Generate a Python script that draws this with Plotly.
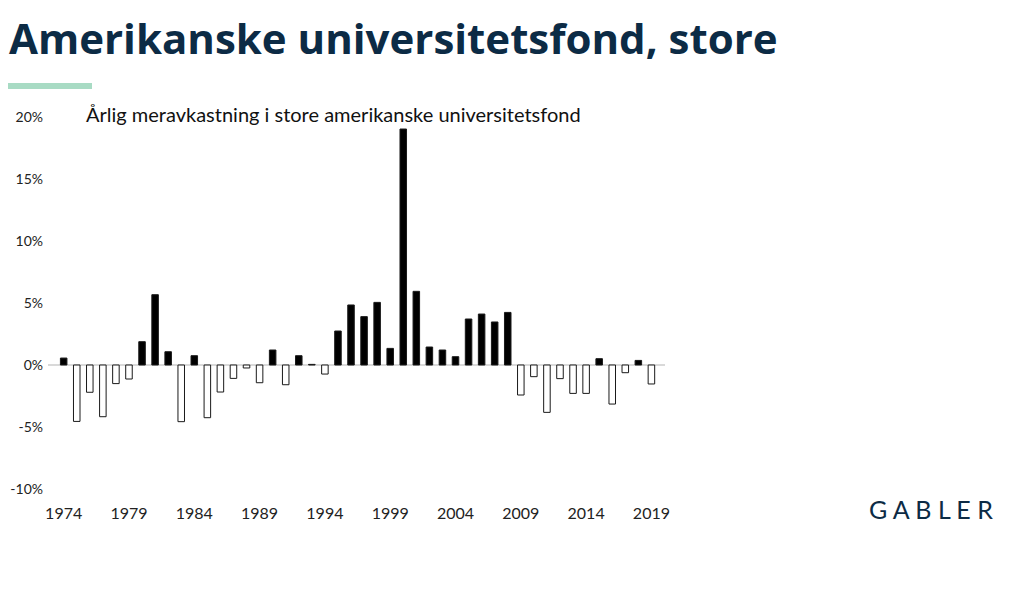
import plotly.graph_objects as go

years = list(range(1974, 2020))
values = [0.56, -4.55, -2.2, -4.17, -1.5, -1.13, 1.88, 5.67, 1.07, -4.57,
          0.75, -4.25, -2.18, -1.08, -0.24, -1.43, 1.21, -1.59, 0.75, 0.05,
          -0.73, 2.74, 4.84, 3.9, 5.05, 1.34, 19.03, 5.94, 1.45, 1.21,
          0.67, 3.71, 4.11, 3.47, 4.24, -2.42, -0.94, -3.82, -1.1, -2.29,
          -2.29, 0.51, -3.15, -0.62, 0.37, -1.53]
tick_years = list(range(1974, 2020, 5))
y_ticks = [-10, -5, 0, 5, 10, 15, 20]
y_labels = ["-10%", "-5%", "0%", "5%", "10%", "15%", "20%"]

title = "Amerikanske universitetsfond, store"
subtitle = "Årlig meravkastning i store amerikanske universitetsfond"

navy = "#0c2b45"
fills = ["#000000" if v >= 0 else "#ffffff" for v in values]

L, T = 40, 109
PW, PH = 617, 372  # plot area in px

fig = go.Figure()
fig.add_trace(go.Bar(
    x=years, y=values, width=0.5,
    marker=dict(color=fills, line=dict(color="#1a1a1a", width=1)),
    hoverinfo="x+y",
))

fig.update_layout(
    width=1024, height=605,
    margin=dict(l=L, r=1024 - L - PW, t=T, b=605 - T - PH),
    paper_bgcolor="white", plot_bgcolor="white",
    showlegend=False,
    font=dict(family="Lato", color="#222222", size=15),
    xaxis=dict(range=[1972.8, 2020.04], tickmode="array", tickvals=tick_years,
               ticktext=[str(t) for t in tick_years], showgrid=False,
               zeroline=False, showline=False, ticks="", fixedrange=True,
               ticklabelstandoff=13, automargin=False,
               tickfont=dict(family="Lato", size=16, color="#222222")),
    yaxis=dict(range=[-10, 20], tickmode="array", tickvals=y_ticks,
               ticktext=y_labels, showgrid=False, zeroline=True,
               zerolinecolor="#d9d9d9", zerolinewidth=1.5, showline=False,
               ticks="", fixedrange=True, ticklabelstandoff=4,
               automargin=False,
               tickfont=dict(family="Lato", size=14, color="#222222")),
    shapes=[dict(type="line", xref="paper", yref="paper",
                 x0=(0 - L) / PW, x1=(84 - L) / PW,
                 y0=1 + (T - 78) / PH, y1=1 + (T - 78) / PH,
                 line=dict(color="#a8dbc4", width=6))],
    annotations=[
        dict(text="<b>" + title + "</b>", xref="paper", yref="paper",
             x=(0 - L) / PW, y=1 + T / PH, xanchor="left",
             yanchor="top", showarrow=False, borderpad=0,
             font=dict(family="Open Sans", size=42, color=navy)),
        dict(text=subtitle, xref="paper", yref="paper",
             x=(76 - L) / PW, y=1 + (T - 106) / PH, xanchor="left",
             yanchor="middle", showarrow=False,
             font=dict(family="Lato", size=20, color="#111111")),
        dict(text="G A B L E R", xref="paper", yref="paper",
             x=(859 - L) / PW, y=-20 / PH, xanchor="left", yanchor="middle",
             showarrow=False,
             font=dict(family="Lato", size=25, color=navy)),
    ],
)

fig.write_html("out.html")
